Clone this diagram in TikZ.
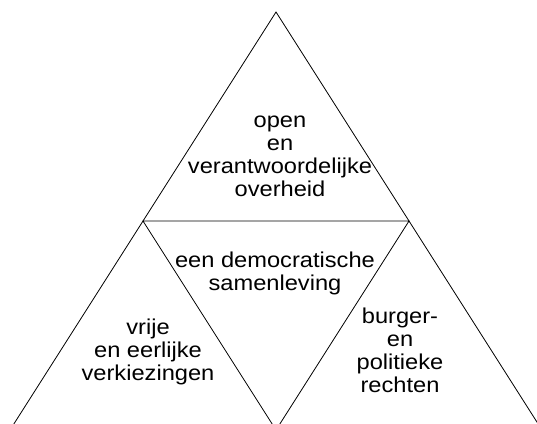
\documentclass[tikz,border=0pt]{standalone}
\usepackage{fontspec}
\setmainfont{Liberation Sans}
\newfontfamily\lblfont[FakeStretch=1.1]{Liberation Sans}
\begin{document}
\begin{tikzpicture}[x=1pt,y=-1pt,
  lbl/.style={inner sep=0pt, align=center, anchor=north,
    font=\lblfont\fontsize{21.5}{23}\selectfont},
  edge/.style={line width=0.8pt, black}]
\useasboundingbox (0,0) rectangle (537,423);
\clip (0,0) rectangle (537,423);
\coordinate (A) at (276,12);
\coordinate (L) at (10,430);
\coordinate (R) at (542,430);
\coordinate (ML) at (143,221);
\coordinate (MR) at (409,221);
\coordinate (MB) at (276,430);
\draw[edge] (L) -- (A) -- (R);
\draw[edge] (ML) -- (MR) -- (MB) -- cycle;
\node[lbl] (top) at (280,110.9) {\strut open\\en\\verantwoordelijke\\overheid};
\node[lbl] (mid) at (275,250.9) {\strut een democratische\\samenleving};
\node[lbl] (left) at (148,317.9) {\strut vrije\\en eerlijke\\verkiezingen};
\node[lbl] (right) at (400,306.9) {\strut burger-\\en\\politieke\\rechten};
\end{tikzpicture}
\end{document}
